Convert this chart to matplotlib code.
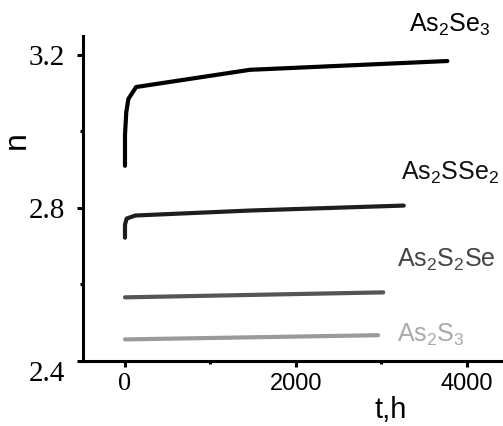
import numpy as np
import matplotlib.pyplot as plt
from matplotlib.ticker import FixedLocator

plt.rcParams['font.family'] = ['Liberation Sans', 'DejaVu Sans']
plt.rcParams['mathtext.fontset'] = 'custom'
plt.rcParams['mathtext.rm'] = 'Liberation Sans'

# time (h) and refractive index n
t_se3 = [0, 0, 15, 40, 130, 1460, 3770]
n_se3 = [2.910, 2.990, 3.050, 3.085, 3.116, 3.161, 3.184]

t_sse2 = [0, 0, 20, 120, 1460, 3260]
n_sse2 = [2.722, 2.756, 2.772, 2.780, 2.793, 2.806]

t_s2se = [0, 3020]
n_s2se = [2.566, 2.579]

t_s3 = [0, 2960]
n_s3 = [2.456, 2.467]

names = [r'$\mathregular{As_2Se_3}$', r'$\mathregular{As_2SSe_2}$',
         r'$\mathregular{As_2S_2Se}$', r'$\mathregular{As_2S_3}$']
line_colors = ['#000000', '#1e1e1e', '#555555', '#9a9a9a']
text_colors = ['#000000', '#111111', '#444444', '#aaaaaa']

xticks = [0, 2000, 4000]
yticks = [2.4, 2.8, 3.2]

fig = plt.figure(figsize=(5.03, 4.26), dpi=100)
ax = fig.add_axes([0.165, 0.153, 0.835, 0.763])

series = [(t_se3, n_se3), (t_sse2, n_sse2), (t_s2se, n_s2se), (t_s3, n_s3)]
for (t, n), c in zip(series, line_colors):
    ax.plot(t, n, color=c, lw=3, solid_capstyle='round', solid_joinstyle='round')

# labels
ax.text(3800, 3.278, names[0], color=text_colors[0], fontsize=18, ha='center', va='center', clip_on=False)
ax.text(3228, 2.891, names[1], color=text_colors[1], fontsize=18, ha='left', va='center', clip_on=False)
ax.text(3181, 2.664, names[2], color=text_colors[2], fontsize=18, ha='left', va='center', clip_on=False)
ax.text(3181, 2.468, names[3], color=text_colors[3], fontsize=18, ha='left', va='center', clip_on=False)

ax.set_xlim(-491, 4421)
ax.set_ylim(2.4, 3.25)

ax.spines['top'].set_visible(False)
ax.spines['right'].set_visible(False)
ax.spines['left'].set_linewidth(2.2)
ax.spines['bottom'].set_linewidth(2.2)

ax.set_xticks(xticks)
ax.set_yticks(yticks)
ax.set_yticklabels([str(v) for v in yticks], fontfamily='Liberation Serif', fontsize=21)
ax.set_xticklabels([str(v) for v in xticks], fontsize=17)
# the "0" is set in serif and "2.4" sits a bit low, as in the original
ax.get_xticklabels()[0].set_fontfamily('Liberation Serif')
ax.get_xticklabels()[0].set_fontsize(19)
ax.get_yticklabels()[0].set_va('top')
ax.xaxis.set_minor_locator(FixedLocator([1000, 3000]))
ax.yaxis.set_minor_locator(FixedLocator([2.6, 3.0]))
ax.tick_params(which='major', direction='out', length=4, width=2.2)
ax.tick_params(axis='y', which='major', pad=9)
ax.tick_params(axis='x', which='major', pad=5)
ax.tick_params(which='minor', direction='out', length=2, width=2.2)

ax.set_xlabel('t,h', fontsize=21)
ax.xaxis.set_label_coords(0.733, -0.108)
ax.set_ylabel('n', fontsize=23)
ax.yaxis.set_label_coords(-0.121, 0.68)

fig.savefig('out.png', dpi=100)
